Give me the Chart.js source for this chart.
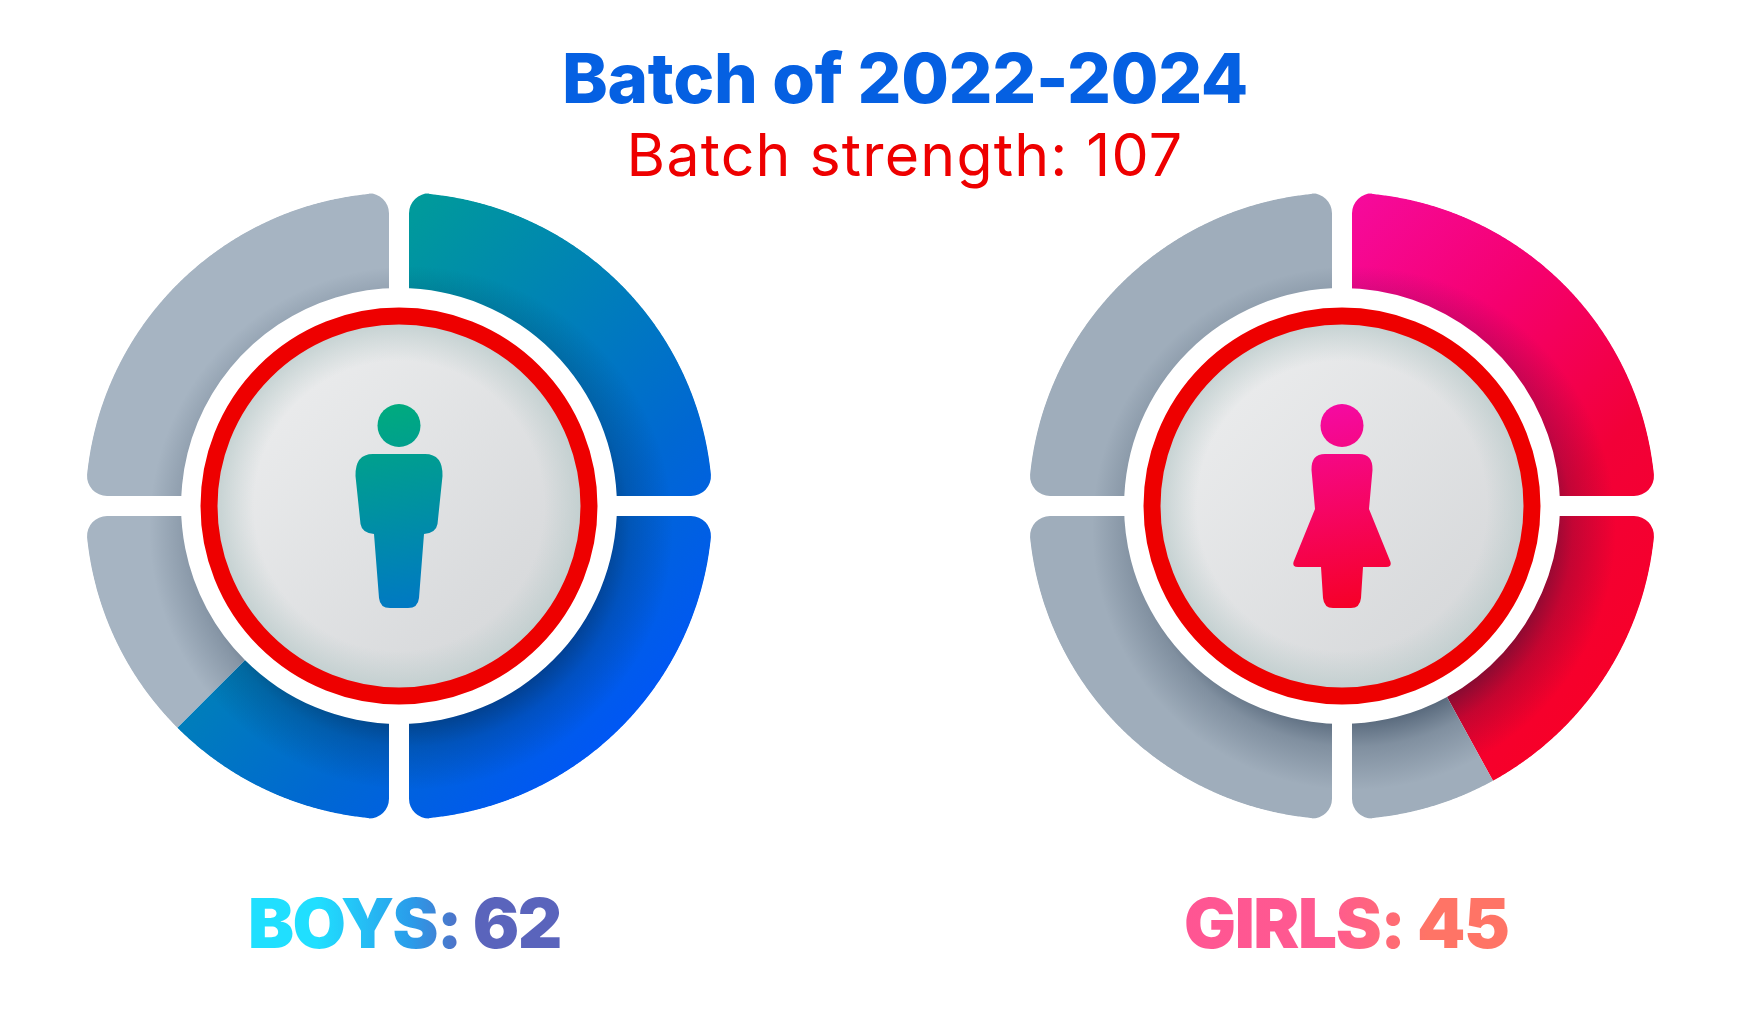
<!DOCTYPE html>
<html>
<head>
<meta charset="utf-8">
<title>Batch of 2022-2024</title>
<script src="https://cdn.jsdelivr.net/npm/chart.js@4"></script>
<style>
    html, body { margin: 0; padding: 0; background: #fff; width: 1746px; height: 1012px; overflow: hidden; }
    body { position: relative; font-family: Inter, "Noto Sans", sans-serif; }
    canvas { position: absolute; width: 660px; height: 660px; }
    #boys { left: 68.5px; top: 175.5px; }
    #girls { left: 1012px; top: 175.5px; }
    .txt { position: absolute; white-space: nowrap; line-height: 1; }
    #title { left: 905px; top: 44px; transform: translateX(-50%); font-size: 69px; font-weight: 800; color: #0560e2; letter-spacing: -0.3px; }
    #subtitle { left: 905px; top: 125px; transform: translateX(-50%); font-size: 59px; font-weight: 400; color: #ee0000; letter-spacing: 1.2px; }
    .count { font-size: 69px; font-weight: 900; top: 889px; -webkit-background-clip: text; background-clip: text; color: transparent; }
    #boys-count { left: 248px; letter-spacing: -1.7px; background-image: linear-gradient(90deg, #20dfff 0%, #20dfff 22%, #2a9cea 52%, #5a64bc 72%, #5a64bc 100%); }
    #girls-count { left: 1184px; letter-spacing: -1.4px; background-image: linear-gradient(90deg, #ff5593 0%, #ff5a90 45%, #ff7466 75%, #ff7466 100%); }
</style>
</head>
<body>
    <div class="txt" id="title">Batch of 2022-2024</div>
    <div class="txt" id="subtitle">Batch strength: 107</div>
    <canvas id="boys" width="660" height="660"></canvas>
    <canvas id="girls" width="660" height="660"></canvas>
    <div class="txt count" id="boys-count">BOYS: 62</div>
    <div class="txt count" id="girls-count">GIRLS: 45</div>

<script>
    // Values: share of the ring that is coloured, then the rest
    const segmentos = ['Filled', 'Rest'];
    const boysShare = [62.5, 37.5];
    const girlsShare = [42, 58];

    const boysStops = ['#009b9a', '#0082b6', '#0068d2', '#0056f6'];
    const girlsStops = ['#f60a9c', '#f5006e', '#f20038', '#f70028'];
    const boysIcon = ['#00ab7e', '#0078c4'];
    const girlsIcon = ['#f50aa2', '#f60026'];
    const boysGrey = '#a6b4c2';
    const girlsGrey = '#9fadbb';

    const GAP = 10, CORNER = 20;

    // the four rounded quadrants, used as a clip so the gaps stay parallel
    function quadrantPath(ctx, cx, cy, R) {
        const h = Math.sqrt(R * R - GAP * GAP);
        const delta = CORNER / R;
        [[1, -1], [1, 1], [-1, 1], [-1, -1]].forEach(([sx, sy]) => {
            const px = v => cx + sx * v, py = v => cy + sy * v;
            const dirX = h / R, dirY = -GAP / R;
            ctx.moveTo(px(GAP), py(GAP));
            ctx.arcTo(px(GAP), py(h), px(GAP + dirX * CORNER * 2), py(h + dirY * CORNER * 2), CORNER);
            const a0 = Math.atan2(h, GAP) - delta, a1 = Math.atan2(GAP, h) + delta;
            for (let a = a0; a > a1; a -= 0.005) {
                ctx.lineTo(px(R * Math.cos(a)), py(R * Math.sin(a)));
            }
            ctx.arcTo(px(h), py(GAP), px(GAP), py(GAP), CORNER);
            ctx.closePath();
        });
    }

    function drawMan(ctx) {
        ctx.moveTo(-26, -52);
        ctx.lineTo(26, -52);
        ctx.quadraticCurveTo(44, -52, 43.5, -30);
        ctx.lineTo(38.5, 18);
        ctx.quadraticCurveTo(37, 27, 25, 28);
        ctx.lineTo(20, 92);
        ctx.quadraticCurveTo(19, 102, 9, 102);
        ctx.lineTo(-9, 102);
        ctx.quadraticCurveTo(-19, 102, -20, 92);
        ctx.lineTo(-25, 28);
        ctx.quadraticCurveTo(-37, 27, -38.5, 18);
        ctx.lineTo(-43.5, -30);
        ctx.quadraticCurveTo(-44, -52, -26, -52);
    }

    function drawWoman(ctx) {
        ctx.moveTo(-17, -52);
        ctx.lineTo(17, -52);
        ctx.quadraticCurveTo(31, -52, 30.5, -36);
        ctx.lineTo(27, 3);
        ctx.lineTo(48.5, 56);
        ctx.quadraticCurveTo(50, 61, 44, 61);
        ctx.lineTo(21, 61);
        ctx.lineTo(19, 92);
        ctx.quadraticCurveTo(18, 102, 9, 102);
        ctx.lineTo(-9, 102);
        ctx.quadraticCurveTo(-18, 102, -19, 92);
        ctx.lineTo(-21, 61);
        ctx.lineTo(-44, 61);
        ctx.quadraticCurveTo(-50, 61, -48.5, 56);
        ctx.lineTo(-27, 3);
        ctx.lineTo(-30.5, -36);
        ctx.quadraticCurveTo(-31, -52, -17, -52);
    }

    const ringPlugin = {
        id: 'ringPlugin',
        beforeDatasetsDraw(chart) {
            const arc = chart.getDatasetMeta(0).data[0];
            const ctx = chart.ctx;
            ctx.save();
            ctx.beginPath();
            quadrantPath(ctx, arc.x, arc.y, arc.outerRadius - 0.5);
            ctx.clip();
        },
        afterDatasetsDraw(chart, args, opts) {
            const arc = chart.getDatasetMeta(0).data[0];
            const ctx = chart.ctx, cx = arc.x, cy = arc.y;

            // shadow the centre disc throws on the ring
            const sx = cx + 12, sy = cy + 22;
            const shade = ctx.createRadialGradient(sx, sy, 190, sx, sy, 262);
            shade.addColorStop(0, 'rgba(5,25,50,0.48)');
            shade.addColorStop(0.4, 'rgba(5,25,50,0.2)');
            shade.addColorStop(1, 'rgba(5,25,50,0)');
            ctx.globalCompositeOperation = 'source-atop';
            ctx.fillStyle = shade;
            ctx.fillRect(0, 0, chart.width, chart.height);
            ctx.restore();

            // centre disc
            const disc = ctx.createLinearGradient(cx - 130, cy - 130, cx + 130, cy + 130);
            disc.addColorStop(0, '#ebeced');
            disc.addColorStop(1, '#d6d8da');
            ctx.beginPath();
            ctx.arc(cx, cy, 184, 0, Math.PI * 2);
            ctx.fillStyle = disc;
            ctx.fill();
            const edge = ctx.createRadialGradient(cx, cy, 145, cx, cy, 184);
            edge.addColorStop(0, 'rgba(190,205,205,0)');
            edge.addColorStop(1, 'rgba(190,205,205,0.85)');
            ctx.fillStyle = edge;
            ctx.fill();

            // red ring
            ctx.beginPath();
            ctx.arc(cx, cy, 190, 0, Math.PI * 2);
            ctx.lineWidth = 17;
            ctx.strokeStyle = '#ee0000';
            ctx.stroke();

            // person icon
            ctx.save();
            ctx.translate(cx, cy);
            const grad = ctx.createLinearGradient(-20, -100, 20, 102);
            grad.addColorStop(0, opts.icon[0]);
            grad.addColorStop(1, opts.icon[1]);
            ctx.fillStyle = grad;
            ctx.beginPath();
            ctx.arc(0, -80.5, 21.5, 0, Math.PI * 2);
            ctx.fill();
            ctx.beginPath();
            opts.figure(ctx);
            ctx.closePath();
            ctx.fill();
            ctx.restore();
        }
    };

    function crearAnillo(id, share, stops, grey, icon, figure) {
        const canvas = document.getElementById(id);
        const ctx = canvas.getContext('2d');
        const c = 330;
        const fill = ctx.createLinearGradient(c - 147, c - 147, c + 228, c + 228);
        stops.forEach((col, i) => fill.addColorStop(i / (stops.length - 1), col));

        new Chart(ctx, {
            type: 'doughnut',
            plugins: [ringPlugin],
            data: {
                labels: segmentos,
                datasets: [{
                    data: share,
                    backgroundColor: [fill, grey],
                    borderWidth: 0
                }]
            },
            options: {
                responsive: false,
                animation: false,
                devicePixelRatio: 1,
                radius: 314,
                cutout: '69.4%',
                layout: { padding: 0 },
                plugins: {
                    legend: { display: false },
                    tooltip: { enabled: false },
                    ringPlugin: { icon: icon, figure: figure }
                }
            }
        });
    }

    crearAnillo('boys', boysShare, boysStops, boysGrey, boysIcon, drawMan);
    crearAnillo('girls', girlsShare, girlsStops, girlsGrey, girlsIcon, drawWoman);
</script>
</body>
</html>
